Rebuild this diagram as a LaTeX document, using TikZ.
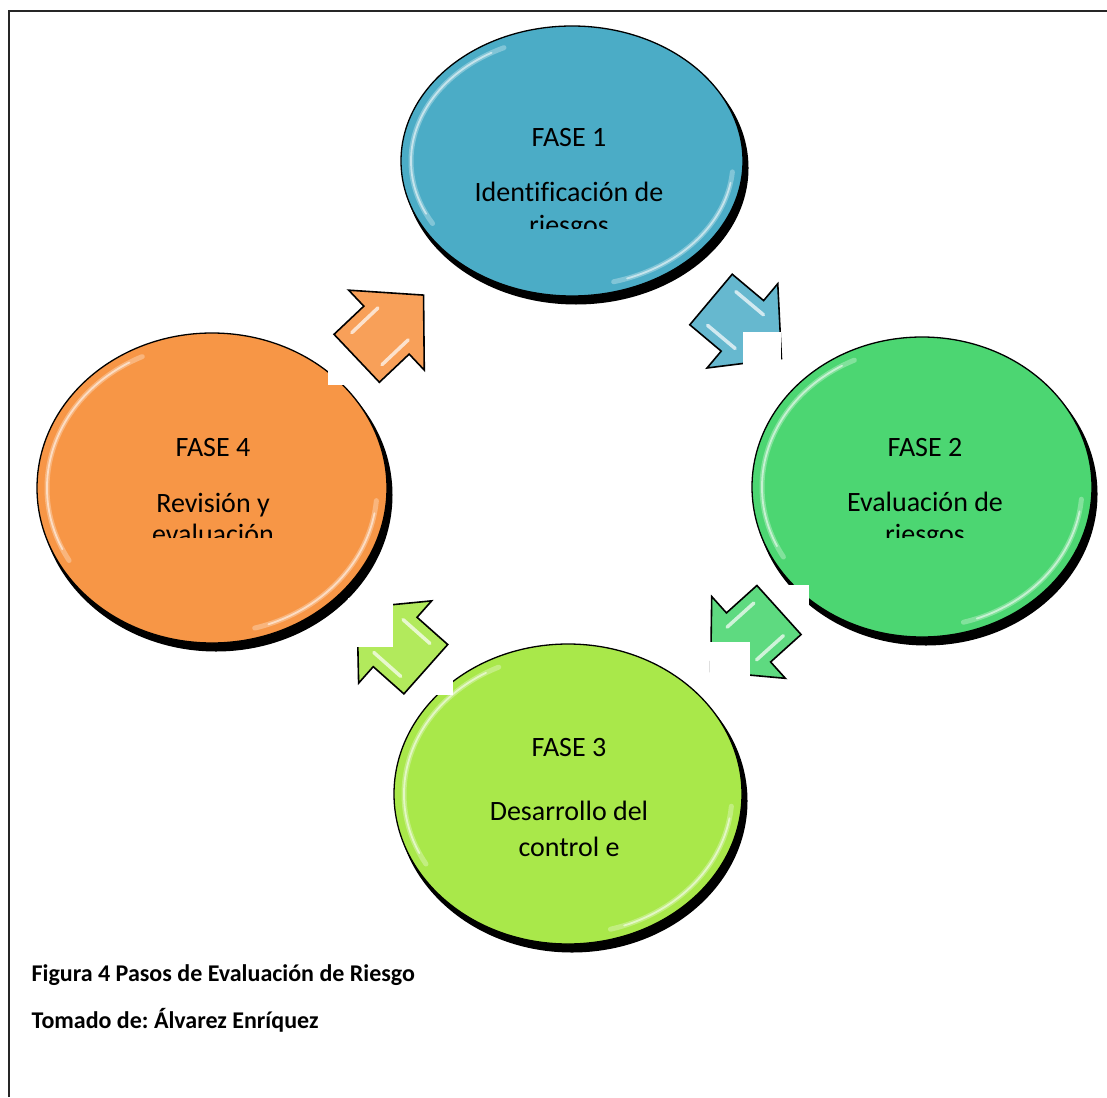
\documentclass[tikz,border=0pt]{standalone}
\usepackage{fontspec}
\setmainfont{Carlito}[Ligatures=CommonOff]
\usetikzlibrary{shapes.geometric}
\definecolor{cblue}{HTML}{4BACC6}
\definecolor{cgreen}{HTML}{4CD672}
\definecolor{clime}{HTML}{A9E84A}
\definecolor{corange}{HTML}{F79646}
\frenchspacing
\tikzset{
  fase/.style={ellipse, draw=black, line width=1.3pt, inner sep=0pt},
  fshadow/.style={ellipse, fill=black, inner sep=0pt},
  lbl/.style={anchor=base, inner sep=0pt, font=\fontsize{28}{34}\selectfont},
  capt/.style={anchor=base west, inner sep=0pt, font=\bfseries\fontsize{24}{29}\selectfont},
  blockarrow/.style={draw=black, line width=1.6pt, line join=miter},
  hl/.style={draw=white, opacity=0.7, line width=3.5pt, line cap=round},
  rim/.style={draw=white, opacity=0.3, line width=5pt, line cap=round},
  rimcore/.style={draw=white, opacity=0.55, line width=1.8pt, line cap=round},
  mask/.style={fill=white}
}
% name, cx, cy, width, height, colour
\newcommand\fasecirc[6]{%
  \node[fshadow, minimum width=#4pt+3pt, minimum height=#5pt+3pt] (#1s) at (#2+4,#3+7) {};
  \node[fase, fill=#6, minimum width=#4pt, minimum height=#5pt] (#1) at (#2,#3) {};
  \draw[rim] (#2,#3) ++(150:#4/2-10 and #5/2-10) arc[start angle=150, end angle=245, x radius=#4/2-10, y radius=#5/2-10];
  \draw[rim] (#2,#3) ++(5:#4/2-10 and #5/2-10) arc[start angle=5, end angle=75, x radius=#4/2-10, y radius=#5/2-10];
  \draw[rimcore] (#2,#3) ++(155:#4/2-10 and #5/2-10) arc[start angle=155, end angle=240, x radius=#4/2-10, y radius=#5/2-10];
  \draw[rimcore] (#2,#3) ++(10:#4/2-10 and #5/2-10) arc[start angle=10, end angle=70, x radius=#4/2-10, y radius=#5/2-10];
}
% x, y of back centre, rotation, colour
\newcommand\blockarr[4]{%
  \begin{scope}[shift={(#1,#2)}, rotate=#3]
    \draw[blockarrow, fill=#4] (0,33) -- (41,33) -- (41,55) -- (92,0) -- (41,-55) -- (41,-33) -- (0,-33) -- cycle;
    \draw[hl] (14,22) -- (50,22);
    \draw[hl] (14,-22) -- (50,-22);
  \end{scope}
}
\begin{document}
\begin{tikzpicture}[x=1pt, y=-1pt]
\useasboundingbox (0,0) rectangle (1107,1097);
\fill[white] (0,0) rectangle (1107,1097);
% frame
\draw[black!85, line width=2.5pt] (9,1097) -- (9,11) -- (1107,11);

% phase circles
\fasecirc{f1}{572}{161}{342}{270}{cblue}
\fasecirc{f2}{922}{487}{340}{300}{cgreen}
\fasecirc{f4}{212}{488}{350}{310}{corange}
\fasecirc{f3}{568}{794}{348}{300}{clime}

% white boxes over circles (behind arrows)
\fill[mask] (683,275) rectangle (722,312);
\fill[mask] (771,585) rectangle (809,614);
\fill[mask] (400,640) rectangle (453,695);
\fill[mask] (328,366) rectangle (347,385);

% block arrows
\blockarr{711}{299.5}{-40}{cblue!85!white}
\blockarr{779}{610}{-138}{cgreen!90!white}
\blockarr{425.8}{669.2}{138.4}{clime!90!white}
\blockarr{356.7}{358.3}{43.4}{corange!90!white}

% white boxes over arrow tips
\fill[mask] (743,332) rectangle (781,372);
\fill[mask] (710,642) rectangle (750,690);
\fill[mask] (348,598) rectangle (393,647);

% texts
\node[lbl] (t1a) at (569,146.7) {FASE 1};
\node[lbl] (t1b) at (569,201.7) {Identificación de};
\begin{scope}
  \clip (420,150) rectangle (720,228.3);
  \node[lbl] (t1c) at (569,234) {riesgos};
\end{scope}

\node[lbl] (t2a) at (925,456.7) {FASE 2};
\node[lbl] (t2b) at (925,511.7) {Evaluación de};
\begin{scope}
  \clip (775,460) rectangle (1075,537.3);
  \node[lbl] (t2c) at (925,543) {riesgos};
\end{scope}

\node[lbl] (t4a) at (213,456.7) {FASE 4};
\node[lbl] (t4b) at (213,512) {Revisión y};
\begin{scope}
  \clip (63,460) rectangle (363,537.3);
  \node[lbl] (t4c) at (213,543) {evaluación};
\end{scope}

\node[lbl] (t3a) at (569,756) {FASE 3};
\node[lbl] (t3b) at (569,820) {Desarrollo del};
\node[lbl] (t3c) at (569,856.7) {control e};

% caption
\node[capt] (cap1) at (31.5,981.7) {Figura 4 Pasos de Evaluación de Riesgo};
\node[capt] (cap2) at (31.5,1028) {Tomado de: Álvarez Enríquez};
\end{tikzpicture}
\end{document}
